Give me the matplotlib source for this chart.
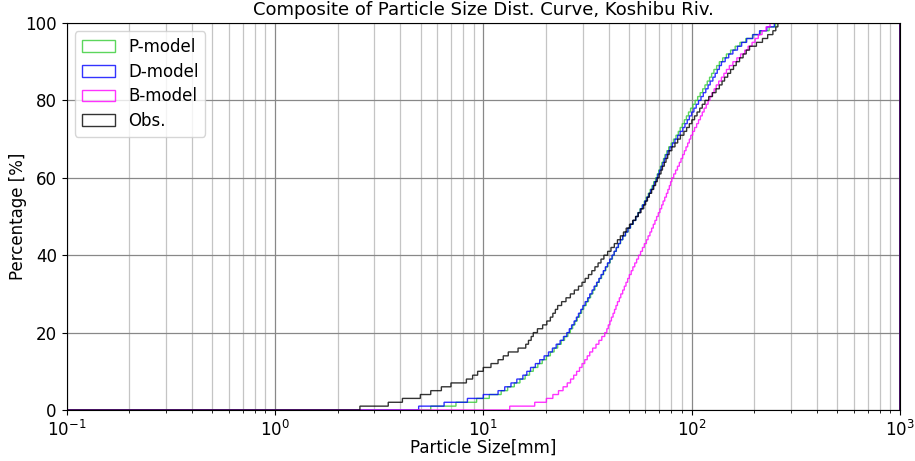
import numpy as np
import matplotlib
matplotlib.use("Agg")
import matplotlib.pyplot as plt

# particle sizes [mm], one value per 1 % step
p_model = [5.6, 7.4, 9.3, 10.7, 12.2, 13.1, 14.1, 15.0, 15.9, 16.7,
           17.4, 18.3, 19.2, 20.1, 21.0, 21.9, 22.8, 23.7, 24.6, 25.5,
           26.2, 26.9, 27.6, 28.3, 29.0, 29.7, 30.4, 31.2, 32.0, 32.8,
           33.6, 34.4, 35.3, 36.1, 37.0, 37.9, 38.8, 39.7, 40.7, 41.7,
           42.6, 43.6, 44.6, 45.7, 46.8, 48.2, 49.6, 51.0, 52.5, 54.0,
           55.3, 56.6, 58.0, 59.3, 60.6, 62.0, 63.3, 64.6, 65.9, 67.2,
           68.4, 69.6, 70.8, 72.0, 73.3, 74.6, 76.1, 77.8, 79.8, 82.0,
           84.2, 86.3, 88.3, 90.3, 92.4, 94.5, 96.7, 99.0, 101.4, 104.0,
           107, 110, 113, 116, 119, 122, 125, 128, 132, 136,
           141, 147, 154, 162, 171, 182, 196, 214, 236, 253]

d_model = [4.9, 6.5, 8.4, 10.0, 11.8, 12.7, 13.6, 14.5, 15.5, 16.2,
           16.9, 17.8, 18.7, 19.6, 20.6, 21.5, 22.4, 23.4, 24.3, 25.2,
           25.9, 26.6, 27.3, 28.0, 28.7, 29.4, 30.1, 30.9, 31.7, 32.5,
           33.3, 34.1, 35.0, 35.9, 36.8, 37.7, 38.6, 39.5, 40.5, 41.5,
           42.5, 43.5, 44.5, 45.6, 46.7, 48.1, 49.5, 50.9, 52.4, 54.0,
           55.4, 56.8, 58.2, 59.6, 61.0, 62.4, 63.8, 65.2, 66.5, 67.8,
           69.0, 70.2, 71.5, 72.8, 74.1, 75.4, 77.0, 78.8, 81.0, 83.3,
           85.8, 88.3, 90.8, 93.0, 95.3, 97.6, 100.0, 102.6, 105.3, 108,
           111, 114, 117, 120, 123, 126.5, 130, 133, 136, 139,
           145, 151, 158, 166, 174, 184, 197, 212, 230, 250]

b_model = [13.4, 17.7, 20.1, 21.6, 23.0, 24.2, 25.3, 26.3, 27.2, 28.1,
           29.0, 29.8, 30.7, 31.6, 32.5, 33.5, 34.8, 35.9, 37.1, 38.3,
           39.2, 39.9, 40.6, 41.3, 42.0, 42.7, 43.4, 44.1, 45.0, 45.8,
           46.7, 47.6, 48.5, 49.4, 50.3, 51.3, 52.3, 53.4, 54.5, 55.7,
           56.9, 58.1, 59.4, 60.7, 61.9, 63.1, 64.3, 65.5, 66.7, 68.0,
           69.3, 70.5, 71.8, 73.1, 74.4, 75.7, 77.0, 78.3, 79.4, 80.5,
           82.2, 83.9, 85.6, 87.3, 89.0, 90.7, 92.4, 94.1, 95.8, 97.5,
           99.3, 101.3, 103.5, 105.8, 108.0, 110.3, 112.6, 115.0, 117.5, 120.0,
           122.7, 125.4, 128.5, 131.5, 135, 139, 143, 147, 152, 158,
           165, 172, 180, 187, 195, 202, 209, 218, 228, 238]

obs = [2.56, 3.5, 4.1, 5.0, 5.6, 6.3, 7.0, 8.3, 8.9, 9.4,
       10.0, 10.9, 11.8, 12.5, 13.2, 14.7, 16.0, 16.5, 17.0, 17.4,
       18.2, 19.3, 20.2, 21.0, 21.6, 22.2, 22.8, 23.8, 25.0, 26.2,
       27.4, 28.7, 29.8, 30.9, 32.0, 33.2, 34.4, 35.6, 36.8, 38.0,
       39.6, 41.1, 42.6, 44.1, 45.6, 47.1, 48.6, 50.4, 52.2, 53.9,
       55.5, 57.2, 59.0, 60.2, 61.5, 62.8, 64.3, 65.8, 67.2, 68.5,
       69.9, 71.3, 72.6, 74.0, 75.4, 76.8, 78.1, 80.5, 83.2, 85.8,
       88.5, 92.0, 94.8, 97.6, 100.4, 103.3, 106.3, 109.4, 112.6, 116,
       121, 126, 131, 136, 140, 144, 149, 154, 159, 164,
       170, 177, 183, 190, 205, 219, 232, 246, 254, 260]

series = [
    ("P-model", p_model, "#33cc33"),
    ("D-model", d_model, "#0000ff"),
    ("B-model", b_model, "#ff00ff"),
    ("Obs.", obs, "#000000"),
]

fig = plt.figure(figsize=(9.15, 4.61), dpi=100)
ax = fig.add_axes([0.0727, 0.1106, 0.9109, 0.8395])

bins = np.logspace(-1, 3, 4001)
for name, vals, col in series:
    w = np.full(len(vals), 100.0 / len(vals))
    ax.hist(vals, bins=bins, weights=w, cumulative=True, histtype="step",
            color=col, lw=1.0, alpha=0.8, label=name)

ax.set_xscale("log")
ax.set_xlim(0.1, 1000)
ax.set_ylim(0, 100)
ax.set_yticks([0, 20, 40, 60, 80, 100])

ax.grid(which="major", color="#888888", lw=0.9)
ax.grid(which="minor", axis="x", color="#c4c4c4", lw=0.9)
ax.set_axisbelow(True)

ax.tick_params(labelsize=12)
ax.set_xlabel("Particle Size[mm]", fontsize=12, labelpad=-0.5)
ax.set_ylabel("Percentage [%]", fontsize=12, labelpad=-1)
ax.set_title("Composite of Particle Size Dist. Curve, Koshibu Riv.", fontsize=13)
ax.legend(loc="upper left", fontsize=12, labelspacing=0.4)

fig.savefig("out.png", dpi=100)
